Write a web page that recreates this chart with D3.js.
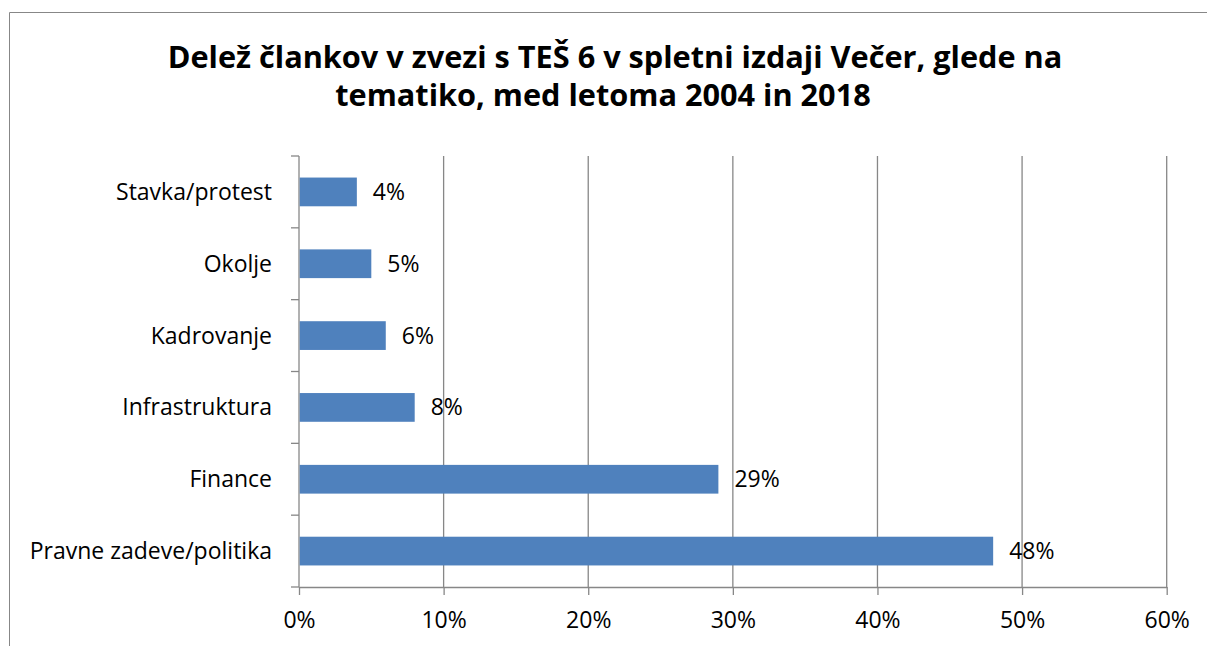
<!DOCTYPE html>
<html>
<head>
<meta charset="utf-8">
<script src="https://cdn.jsdelivr.net/npm/d3@7"></script>
<style>
  html, body { margin: 0; padding: 0; background: #fff; }
  svg { display: block; font-family: "Open Sans", sans-serif; }
</style>
</head>
<body>
<div id="chart"></div>
<script>
// data
const categories = ['Stavka/protest', 'Okolje', 'Kadrovanje', 'Infrastruktura', 'Finance', 'Pravne zadeve/politika'];
const shares = [4, 5, 6, 8, 29, 48];
const xTicks = [0, 10, 20, 30, 40, 50, 60];
const titleLines = ['Delež člankov v zvezi s TEŠ 6 v spletni izdaji Večer, glede na', 'tematiko, med letoma 2004 in 2018'];

const width = 1207, height = 646;
const margin = { top: 156, right: 40, bottom: 59, left: 299 };
const gridColor = '#878787';
const barColor = '#4F81BD';
const labelSize = '23px';

const svg = d3.select('#chart')
  .append('svg')
    .attr('width', width)
    .attr('height', height);

// outer chart border (cropped on the right and bottom)
svg.append('path')
  .attr('d', `M9.5,${height} V12.5 H${width}`)
  .attr('fill', 'none')
  .attr('stroke', gridColor)
  .attr('stroke-width', 1);

// title
svg.append('text')
  .attr('x', 615).attr('y', 68)
  .attr('text-anchor', 'middle')
  .style('font-size', '30.7px').style('font-weight', 'bold')
  .text(titleLines[0]);
svg.append('text')
  .attr('x', 603).attr('y', 106)
  .attr('text-anchor', 'middle')
  .style('font-size', '30.7px').style('font-weight', 'bold')
  .text(titleLines[1]);

const x = d3.scaleLinear()
  .domain([0, 60])
  .range([margin.left, 1166.7]);

const y = d3.scaleBand()
  .domain(categories)
  .range([margin.top, height - margin.bottom])
  .paddingInner(0.6)
  .paddingOuter(0.3);

const plotBottom = height - margin.bottom;

// vertical gridlines
svg.append('g')
  .selectAll('line')
  .data(xTicks.slice(1))
  .enter().append('line')
    .attr('x1', d => x(d)).attr('x2', d => x(d))
    .attr('y1', margin.top).attr('y2', plotBottom)
    .attr('stroke', gridColor)
    .attr('stroke-width', 1.3);

// x axis
const xAxis = svg.append('g')
  .attr('transform', `translate(0,${plotBottom})`)
  .call(d3.axisBottom(x).tickValues(xTicks).tickFormat(d => d + '%').tickSize(8).tickSizeOuter(0));
xAxis.select('.domain').attr('stroke', gridColor).attr('stroke-width', 1.3);
xAxis.selectAll('.tick line').attr('stroke', gridColor).attr('stroke-width', 1.3);
xAxis.selectAll('.tick text')
  .attr('fill', '#000')
  .attr('dy', null)
  .attr('y', 41)
  .style('font-size', labelSize)
  .style('font-family', '"Open Sans", sans-serif');

// y axis: line plus ticks on category boundaries
const boundaries = d3.range(categories.length + 1).map(i => margin.top + i * (plotBottom - margin.top) / categories.length);
const yAxis = svg.append('g');
yAxis.append('line')
  .attr('x1', margin.left).attr('x2', margin.left)
  .attr('y1', margin.top).attr('y2', plotBottom)
  .attr('stroke', gridColor).attr('stroke-width', 1.3);
yAxis.selectAll('line.tick')
  .data(boundaries)
  .enter().append('line')
    .attr('class', 'tick')
    .attr('x1', margin.left - 8).attr('x2', margin.left)
    .attr('y1', d => d).attr('y2', d => d)
    .attr('stroke', gridColor).attr('stroke-width', 1.3);
yAxis.selectAll('text')
  .data(categories)
  .enter().append('text')
    .attr('x', 272)
    .attr('y', d => y(d) + y.bandwidth() / 2)
    .attr('dy', '0.35em')
    .attr('text-anchor', 'end')
    .style('font-size', labelSize)
    .text(d => d);

// bars
const rows = categories.map((c, i) => ({ category: c, value: shares[i] }));
svg.append('g')
  .selectAll('rect')
  .data(rows)
  .enter().append('rect')
    .attr('x', x(0) + 0.7)
    .attr('y', d => y(d.category))
    .attr('width', d => x(d.value) - x(0) - 0.7)
    .attr('height', y.bandwidth())
    .attr('fill', barColor);

// value labels
svg.append('g')
  .selectAll('text')
  .data(rows)
  .enter().append('text')
    .attr('x', d => x(d.value) + 16)
    .attr('y', d => y(d.category) + y.bandwidth() / 2)
    .attr('dy', '0.35em')
    .style('font-size', labelSize)
    .text(d => d.value + '%');
</script>
</body>
</html>
